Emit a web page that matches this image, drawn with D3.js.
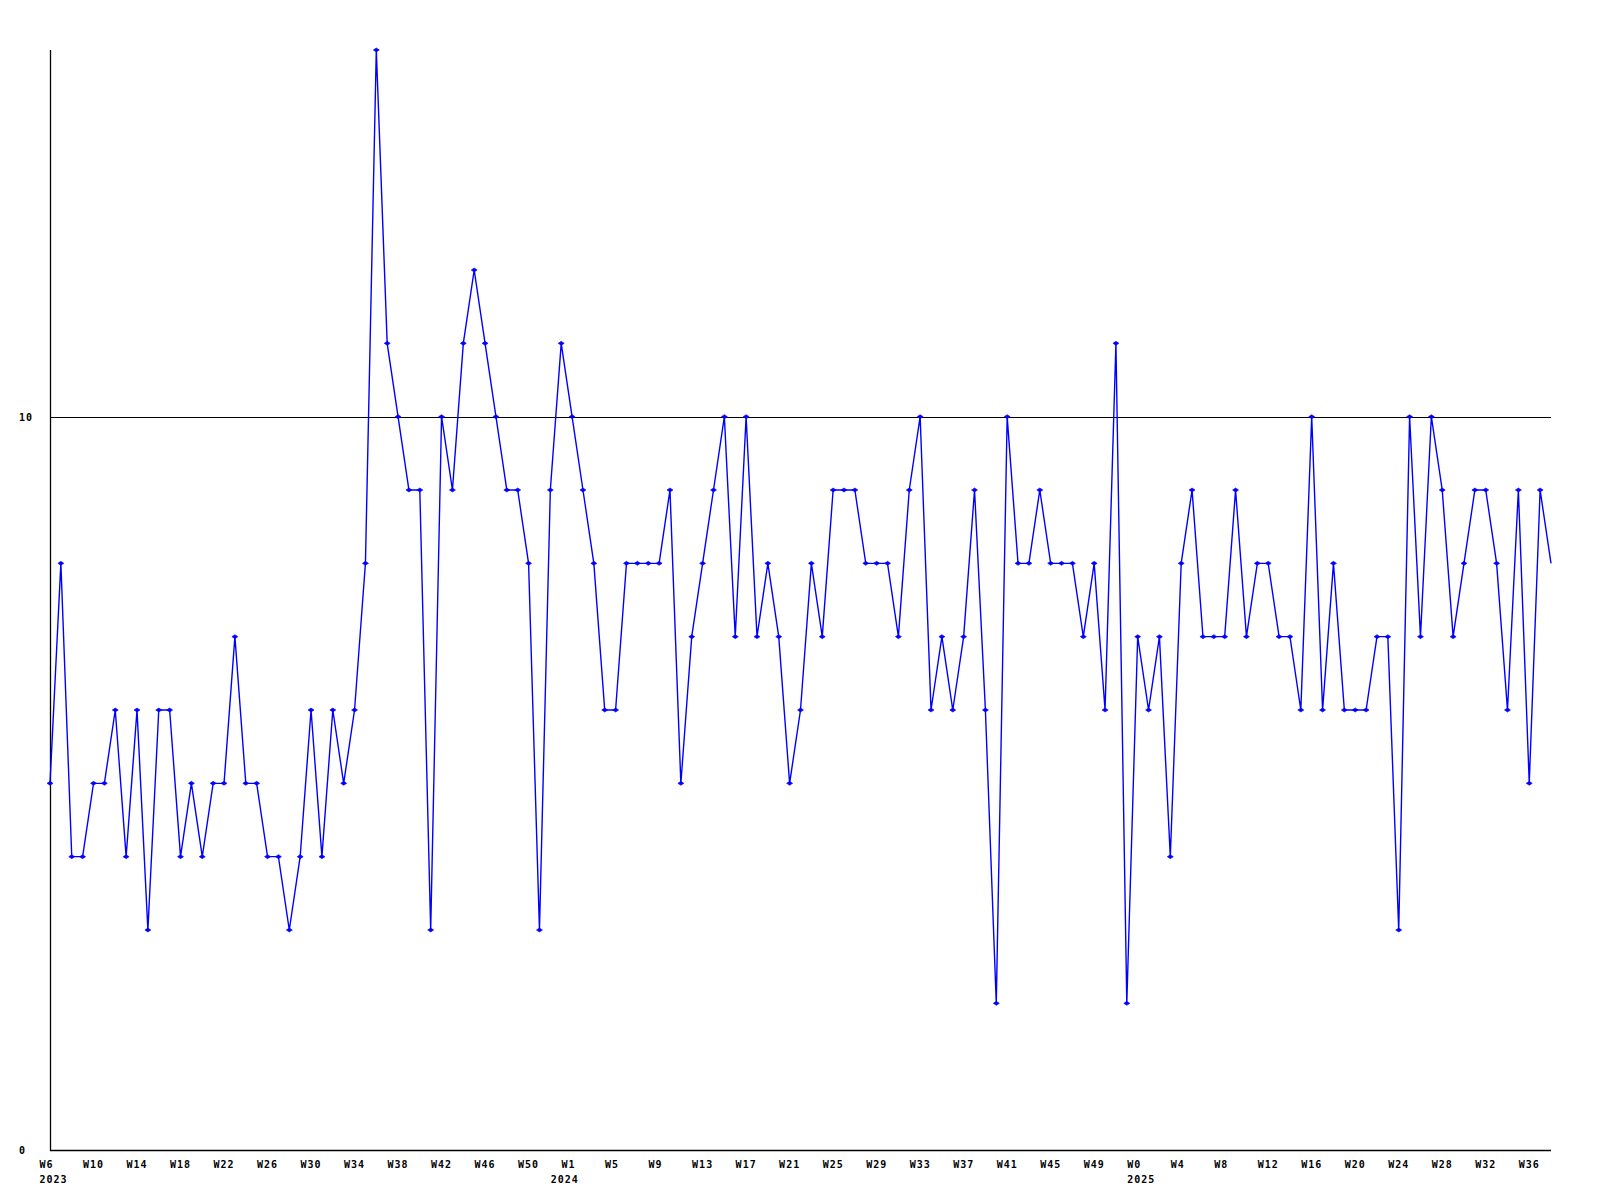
<!DOCTYPE html>
<html>
<head>
<meta charset="utf-8">
<script src="https://cdn.jsdelivr.net/npm/d3@7"></script>
<style>
  html, body { margin: 0; padding: 0; background: #ffffff; }
  svg { display: block; }
  text { font-family: "DejaVu Sans Mono", monospace; font-weight: bold; font-size: 10px; letter-spacing: 1px; fill: #000; }
</style>
</head>
<body>
<script>
// Weekly values, 2023 W6 .. 2025 W38
const values = [
  5,8,4,4,5,5,6,4,6,3,
  6,6,4,5,4,5,5,7,5,5,
  4,4,3,4,6,4,6,5,6,8,
  15,11,10,9,9,3,10,9,11,12,
  11,10,9,9,8,3,9,11,10,9,
  8,6,6,8,8,8,8,9,5,7,
  8,9,10,7,10,7,8,7,5,6,
  8,7,9,9,9,8,8,8,7,9,
  10,6,7,6,7,9,6,2,10,8,
  8,9,8,8,8,7,8,6,11,2,
  7,6,7,4,8,9,7,7,7,9,
  7,8,8,7,7,6,10,6,8,6,
  6,6,7,7,3,10,7,10,9,7,
  8,9,9,8,6,9,5,9,8
];

// Week tick labels (one every 4 points) and their point indexes
const weekTickLabels = [
  "W6","W10","W14","W18","W22","W26","W30","W34","W38","W42","W46","W50",
  "W1","W5","W9","W13","W17","W21","W25","W29","W33","W37","W41","W45","W49",
  "W0","W4","W8","W12","W16","W20","W24","W28","W32","W36"
];
const weekTickIndex = [
  0,4,8,12,16,20,24,28,32,36,40,44,
  48,52,56,60,64,68,72,76,80,84,88,92,96,
  100,104,108,112,116,120,124,128,132,136
];

// Year labels at first point of each year
const yearLabels = ["2023","2024","2025"];
const yearStartIndex = [0, 47, 100];

// Y tick labels
const yTickValues = [0, 10];
const yGridValues = [10];
const yMax = 15;

(function () {
  const W = 1600, H = 1200;
  const mL = 50, mR = 1551, mT = 50, mB = 1150;

  const svg = d3.select("body").append("svg")
    .attr("width", W).attr("height", H)
    .style("background", "#fff");

  const x = d3.scaleLinear().domain([0, values.length - 1]).range([mL, mR]);
  const y = d3.scaleLinear().domain([0, yMax]).range([mB, mT]);

  // grid line(s)
  svg.append("g").selectAll("line").data(yGridValues).join("line")
    .attr("x1", mL).attr("x2", mR)
    .attr("y1", d => Math.round(y(d)) + 0.5).attr("y2", d => Math.round(y(d)) + 0.5)
    .attr("stroke", "#000").attr("stroke-width", 1)
    .attr("shape-rendering", "crispEdges");

  // axes lines
  svg.append("line")
    .attr("x1", mL + 0.5).attr("x2", mL + 0.5)
    .attr("y1", mT).attr("y2", mB + 0.5)
    .attr("stroke", "#000").attr("stroke-width", 1.3);
  svg.append("line")
    .attr("x1", mL).attr("x2", mR)
    .attr("y1", mB + 0.5).attr("y2", mB + 0.5)
    .attr("stroke", "#000").attr("stroke-width", 1.3);

  // y tick labels
  svg.append("g").selectAll("text").data(yTickValues).join("text")
    .attr("x", 19)
    .attr("y", d => y(d) + 4)
    .text(d => d);

  // x week labels
  svg.append("g").selectAll("text").data(weekTickLabels).join("text")
    .attr("x", (d, i) => x(weekTickIndex[i]) - 10.5)
    .attr("y", 1167.5)
    .text(d => d);

  // year labels
  svg.append("g").selectAll("text").data(yearLabels).join("text")
    .attr("x", (d, i) => x(yearStartIndex[i]) - 10.5)
    .attr("y", 1183)
    .text(d => d);

  // data line
  const line = d3.line().x((d, i) => x(i)).y(d => y(d));
  svg.append("path")
    .datum(values)
    .attr("d", line)
    .attr("fill", "none")
    .attr("stroke", "#0000ff")
    .attr("stroke-width", 1.4);

  // markers (last, incomplete week has none)
  svg.append("g").selectAll("path").data(values.slice(0, values.length - 1)).join("path")
    .attr("d", (d, i) => {
      const cx = x(i), cy = y(d);
      return `M${cx - 3},${cy} L${cx},${cy - 2} L${cx + 3},${cy} L${cx},${cy + 2} Z`;
    })
    .attr("fill", "#0000ff")
    .attr("stroke", "#0000ff")
    .attr("stroke-width", 0.6);
})();
</script>
</body>
</html>
